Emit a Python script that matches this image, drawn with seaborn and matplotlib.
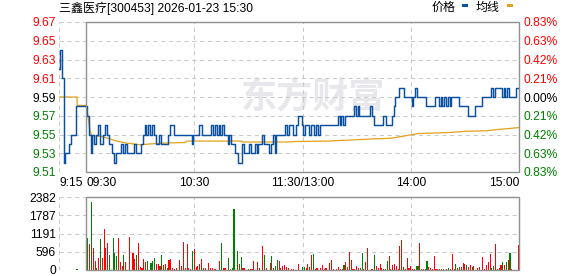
import numpy as np
import pandas as pd
import matplotlib
matplotlib.use("Agg")
import matplotlib.pyplot as plt
from matplotlib.patches import Rectangle
from matplotlib.transforms import blended_transform_factory
import seaborn as sns

# ---------------- data ----------------
title = "三鑫医疗[300453] 2026-01-23 15:30"
legend_labels = ["价格", "均线"]
watermark = "东方财富"

prev_close = 9.59
price_ticks = [9.51, 9.53, 9.55, 9.57, 9.59, 9.61, 9.63, 9.65, 9.67]
pct_labels = ["0.83%", "0.63%", "0.42%", "0.21%", "0.00%", "0.21%", "0.42%", "0.63%", "0.83%"]
vol_ticks = [0, 596, 1191, 1787, 2382]

time_ticks = [-15, 0, 60, 120, 180, 240]
time_labels = ["9:15", "09:30", "10:30", "11:30/13:00", "14:00", "15:00"]

# minutes relative to 09:30 (pre-market 9:15 = -15)
pre_prices = [9.62, 9.64, 9.61, 9.52, 9.53, 9.53, 9.54, 9.55, 9.55, 9.55,
              9.58, 9.58, 9.58, 9.58, 9.58]
day_prices = [
    9.58, 9.57, 9.55, 9.53, 9.55, 9.54, 9.55, 9.56, 9.54, 9.54,
    9.55, 9.56, 9.55, 9.54, 9.54, 9.53, 9.52, 9.53, 9.53, 9.53,
    9.54, 9.53, 9.54, 9.53, 9.53, 9.53, 9.53, 9.54, 9.53, 9.53,
    9.53, 9.54, 9.55, 9.56, 9.55, 9.56, 9.55, 9.56, 9.55, 9.54,
    9.54, 9.55, 9.54, 9.54, 9.54, 9.54, 9.55, 9.56, 9.56, 9.55,
    9.55, 9.55, 9.55, 9.55, 9.55, 9.55, 9.55, 9.55, 9.55, 9.54,
    9.55, 9.55, 9.55, 9.56, 9.56, 9.55, 9.55, 9.55, 9.55, 9.55,
    9.56, 9.55, 9.56, 9.55, 9.56, 9.55, 9.56, 9.55, 9.55, 9.54,
    9.55, 9.54, 9.54, 9.53, 9.53, 9.52, 9.52, 9.54, 9.53, 9.53,
    9.53, 9.54, 9.53, 9.53, 9.54, 9.53, 9.54, 9.54, 9.55, 9.54,
    9.54, 9.54, 9.53, 9.54, 9.55, 9.53, 9.55, 9.55, 9.55, 9.55,
    9.55, 9.56, 9.55, 9.56, 9.56, 9.55, 9.55, 9.56, 9.57, 9.57,
    9.56, 9.55, 9.56, 9.56, 9.55, 9.56, 9.56, 9.55, 9.56, 9.55,
    9.56, 9.56, 9.56, 9.56, 9.56, 9.56, 9.56, 9.56, 9.56, 9.56,
    9.57, 9.56, 9.57, 9.56, 9.57, 9.57, 9.57, 9.57, 9.57, 9.58,
    9.57, 9.58, 9.57, 9.57, 9.57, 9.57, 9.57, 9.57, 9.58, 9.57,
    9.56, 9.56, 9.56, 9.56, 9.56, 9.57, 9.57, 9.56, 9.56, 9.56,
    9.57, 9.58, 9.59, 9.59, 9.60, 9.60, 9.60, 9.59, 9.59, 9.59,
    9.59, 9.58, 9.59, 9.60, 9.59, 9.59, 9.59, 9.59, 9.59, 9.58,
    9.58, 9.58, 9.58, 9.58, 9.59, 9.59, 9.58, 9.59, 9.58, 9.59,
    9.58, 9.59, 9.58, 9.59, 9.59, 9.59, 9.59, 9.58, 9.58, 9.58,
    9.58, 9.58, 9.57, 9.57, 9.57, 9.57, 9.58, 9.58, 9.58, 9.58,
    9.59, 9.59, 9.59, 9.59, 9.59, 9.60, 9.59, 9.60, 9.60, 9.60,
    9.60, 9.59, 9.60, 9.59, 9.60, 9.59, 9.59, 9.59, 9.59, 9.60,
    9.60,
]

avg_minutes = [-15, -5, -4.9, 0, 1, 2, 3, 8, 12, 17, 22, 30, 36, 45, 55, 56,
               86, 87, 112, 116, 134, 156, 169, 177, 184, 200, 211, 222, 228, 234, 240]
avg_values = [9.590, 9.590, 9.581, 9.581, 9.570, 9.556, 9.549, 9.548, 9.546, 9.543,
              9.541, 9.539, 9.540, 9.541, 9.5414, 9.543, 9.543, 9.542, 9.542, 9.5425,
              9.543, 9.545, 9.546, 9.5486, 9.551, 9.552, 9.5535, 9.554, 9.5553, 9.5563,
              9.5574]

vol_minutes = [
    -5, 1, 2, 3, 4, 5, 6, 7, 8, 9, 10, 11, 12, 13, 15, 16, 17, 18, 19, 20,
    21, 22, 24, 26, 27, 28, 29, 30, 31, 32, 33, 34, 36, 37, 38, 39, 40, 41, 42, 43,
    44, 45, 46, 47, 48, 49, 50, 52, 53, 54, 55, 56, 57, 58, 59, 60, 61, 62, 63, 64,
    65, 66, 68, 69, 70, 71, 72, 74, 75, 76, 77, 79, 80, 81, 82, 84, 85, 86, 87, 88,
    90, 91, 92, 93, 95, 96, 98, 99, 100, 102, 103, 104, 105, 106, 107, 108, 109, 110, 111, 112,
    114, 115, 118, 120, 121, 122, 123, 124, 125, 126, 127, 128, 130, 131, 132, 133, 135, 136, 137, 139,
    140, 141, 142, 143, 144, 145, 146, 147, 148, 149, 150, 151, 152, 153, 154, 155, 156, 158, 159, 160,
    161, 162, 163, 164, 165, 166, 167, 168, 169, 170, 171, 172, 173, 174, 175, 176, 177, 178, 179, 180,
    181, 182, 183, 184, 185, 186, 187, 188, 189, 190, 191, 192, 193, 194, 195, 196, 197, 198, 200, 201,
    202, 203, 204, 205, 206, 207, 208, 209, 210, 211, 212, 213, 214, 215, 217, 218, 220, 221, 222, 223,
    224, 225, 226, 227, 228, 229, 230, 231, 232, 233, 234, 235, 236, 240,
]
vol_values = [
    43, 1054, 848, 2207, 728, 293, 54, 402, 1011, 402, 1348, 728, 891, 489, 1054, 554, 467, 1054, 261, 120,
    489, 272, 1076, 554, 370, 489, 891, 109, 54, 359, 272, 293, 217, 293, 402, 207, 207, 120, 489, 163,
    207, 54, 326, 359, 54, 22, 54, 326, 141, 913, 76, 848, 54, 22, 620, 674, 109, 120, 207, 359,
    54, 54, 228, 54, 54, 22, 33, 293, 880, 76, 65, 402, 33, 76, 1989, 620, 207, 435, 54, 54,
    33, 33, 33, 293, 250, 76, 783, 489, 54, 228, 467, 76, 130, 326, 293, 54, 141, 163, 109, 54,
    22, 22, 196, 98, 98, 76, 196, 98, 489, 522, 22, 54, 54, 163, 33, 54, 228, 326, 33, 33,
    98, 33, 33, 163, 261, 98, 587, 326, 33, 33, 130, 76, 54, 554, 33, 261, 717, 33, 33, 489,
    130, 76, 196, 54, 33, 33, 293, 457, 22, 163, 196, 120, 33, 783, 978, 98, 33, 391, 54, 130,
    33, 33, 130, 130, 880, 33, 33, 33, 293, 98, 76, 33, 457, 33, 33, 33, 33, 33, 33, 76,
    33, 522, 33, 196, 54, 109, 109, 228, 196, 163, 98, 163, 98, 141, 76, 98, 424, 33, 163, 261,
    522, 76, 130, 848, 33, 54, 163, 261, 163, 261, 326, 554, 33, 815,
]
vol_dir = [
    "d", "d", "u", "d", "u", "u", "d", "u", "d", "u", "u", "u", "u", "d", "d", "d", "d", "u", "u", "u",
    "d", "u", "u", "u", "u", "d", "u", "u", "u", "u", "u", "d", "d", "d", "d", "u", "u", "u", "d", "u",
    "u", "d", "u", "u", "u", "d", "u", "u", "u", "u", "u", "u", "u", "u", "d", "u", "u", "u", "u", "u",
    "u", "u", "u", "u", "u", "d", "u", "u", "d", "u", "u", "d", "u", "d", "d", "d", "u", "d", "u", "u",
    "u", "u", "u", "u", "u", "u", "u", "d", "u", "u", "d", "u", "d", "d", "u", "u", "u", "u", "u", "u",
    "u", "u", "u", "d", "d", "u", "u", "u", "u", "d", "u", "u", "u", "u", "u", "u", "u", "u", "u", "u",
    "u", "u", "u", "d", "u", "u", "u", "u", "u", "u", "u", "u", "d", "d", "u", "u", "u", "u", "u", "d",
    "u", "u", "u", "u", "u", "u", "d", "u", "u", "u", "u", "u", "u", "u", "u", "u", "u", "u", "u", "u",
    "u", "u", "d", "d", "u", "u", "u", "u", "d", "u", "u", "u", "u", "u", "u", "u", "u", "d", "u", "d",
    "u", "u", "u", "d", "u", "d", "u", "u", "u", "d", "u", "u", "d", "u", "u", "u", "u", "u", "u", "u",
    "u", "d", "d", "u", "u", "u", "u", "d", "u", "d", "u", "d", "u", "u",
]

# ---------------- style ----------------
W, H = 578, 276
sns.set_style("white")
plt.rcParams["font.family"] = ["Liberation Sans", "Noto Sans CJK SC", "DejaVu Sans"]
FS = 8.64  # 12 px

BLUE = "#0b4fa0"
ORANGE = "#e3a11c"
RED = "#ff0000"
GREEN = "#008000"
GRID = "#cacaca"
FRAME = "#919191"
DASH = (0, (4, 3.5))

price_minutes = list(range(-len(pre_prices), 0)) + list(range(len(day_prices)))
prices = pre_prices + day_prices
assert len(price_minutes) == len(prices)
assert len(vol_minutes) == len(vol_values) == len(vol_dir)

df_price = pd.DataFrame({"minute": price_minutes, "price": prices})
df_avg = pd.DataFrame({"minute": avg_minutes, "avg": avg_values})
df_vol = pd.DataFrame({"minute": vol_minutes, "volume": vol_values,
                       "dir": vol_dir})

fig = plt.figure(figsize=(W / 100, H / 100), dpi=100)
fig.patch.set_facecolor("white")

def fx(px):
    return px / W

def fy(py):
    return 1 - py / H

x0, x1 = 59, 519
ax = fig.add_axes([fx(x0), fy(172), fx(x1 - x0), (172 - 22) / H])
axv = fig.add_axes([fx(x0), fy(270), fx(x1 - x0), (270 - 197) / H])

xmin, xmax = time_ticks[0], time_ticks[-1]

def level_color(v, ref):
    if abs(v - ref) < 1e-9:
        return "black"
    return RED if v > ref else GREEN

# ---------------- price panel ----------------
for a in (ax, axv):
    a.set_facecolor("none")
    for s in a.spines.values():
        s.set_visible(False)
    a.set_xlim(xmin, xmax)

ax.set_ylim(price_ticks[0], price_ticks[-1])
for t in price_ticks:
    ax.axhline(t, color=GRID, lw=0.75, ls=DASH, zorder=1)
for t in time_ticks[:-1]:
    ax.axvline(t, color=GRID, lw=0.75, ls=DASH, zorder=1)

ax.text(126, 9.5902, watermark, fontsize=26, fontweight="bold",
        family=["Noto Sans CJK SC"], color="#e8e8ec", ha="center", va="center", zorder=0)

sns.lineplot(data=df_avg, x="minute", y="avg", ax=ax, color=ORANGE, lw=0.9,
             estimator=None, sort=False, zorder=3)
sns.lineplot(data=df_price, x="minute", y="price", ax=ax, color=BLUE, lw=1.05,
             estimator=None, sort=False, drawstyle="steps-mid", zorder=4)

ax.add_patch(Rectangle((0, price_ticks[0]), xmax, price_ticks[-1] - price_ticks[0],
                       fill=False, edgecolor=FRAME, lw=1.0, zorder=5, clip_on=False))

ax.set_xlabel("")
ax.set_ylabel("")
ax.set_xticks([])
ax.set_yticks(price_ticks)
ax.set_yticklabels([f"{t:.2f}" for t in price_ticks], fontsize=FS)
ax.tick_params(axis="y", length=0, pad=2.3)
for lab, t in zip(ax.get_yticklabels(), price_ticks):
    lab.set_color(level_color(t, prev_close))

ax2 = ax.twinx()
ax2.set_ylim(ax.get_ylim())
for s in ax2.spines.values():
    s.set_visible(False)
ax2.set_yticks(price_ticks)
ax2.set_yticklabels(pct_labels, fontsize=FS)
ax2.tick_params(axis="y", length=0, pad=3.6)
for lab, t in zip(ax2.get_yticklabels(), price_ticks):
    lab.set_color(level_color(t, prev_close))

trans = blended_transform_factory(ax.transData, ax.transAxes)
aligns = ["left", "left", "center", "center", "center", "right"]
for t, lab, ha in zip(time_ticks, time_labels, aligns):
    ax.annotate(lab, xy=(t, 0), xycoords=trans, xytext=(0, -3.8),
                textcoords="offset points", ha=ha, va="top", fontsize=FS,
                color="black", annotation_clip=False)

# ---------------- volume panel ----------------
axv.set_ylim(vol_ticks[0], vol_ticks[-1])
for t in vol_ticks:
    axv.axhline(t, color=GRID, lw=0.75, ls=DASH, zorder=1)
for t in time_ticks[:-1]:
    axv.axvline(t, color=GRID, lw=0.75, ls=DASH, zorder=1)

sns.barplot(data=df_vol, x="minute", y="volume", hue="dir",
            palette={"u": RED, "d": GREEN}, native_scale=True, dodge=False,
            width=0.6, errorbar=None, legend=False, saturation=1,
            linewidth=0, antialiased=False, ax=axv, zorder=3)
axv.set_xlim(xmin, xmax)
axv.set_ylim(vol_ticks[0], vol_ticks[-1])

axv.add_patch(Rectangle((0, vol_ticks[0]), xmax, vol_ticks[-1] - vol_ticks[0],
                        fill=False, edgecolor=FRAME, lw=1.0, zorder=5, clip_on=False))
axv.set_xlabel("")
axv.set_ylabel("")
axv.set_xticks([])
axv.set_yticks(vol_ticks)
axv.set_yticklabels([str(t) for t in vol_ticks], fontsize=FS, color="black")
axv.tick_params(axis="y", length=0, pad=2.3)

# ---------------- title & legend ----------------
fig.text(fx(59), fy(8), title, fontsize=FS, ha="left", va="center", color="black")
fig.text(fx(432), fy(8), legend_labels[0], fontsize=FS, ha="left", va="center", color="black")
fig.patches.append(Rectangle((fx(462), fy(7)), fx(6), 3 / H, transform=fig.transFigure,
                             facecolor=BLUE, edgecolor="none"))
fig.text(fx(476), fy(8), legend_labels[1], fontsize=FS, ha="left", va="center", color="black")
fig.patches.append(Rectangle((fx(507), fy(7)), fx(6), 3 / H, transform=fig.transFigure,
                             facecolor=ORANGE, edgecolor="none"))

fig.savefig("out.png", dpi=100)
